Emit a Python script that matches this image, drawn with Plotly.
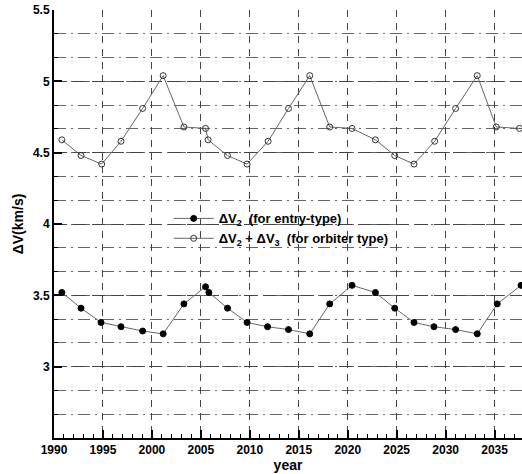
import plotly.graph_objects as go

entry_years = [1990.8, 1992.76, 1994.8, 1996.84, 1999.05, 2001.15, 2003.27, 2005.48, 2005.82,
               2007.72, 2009.72, 2011.81, 2013.95, 2016.12, 2018.16, 2020.44, 2022.83, 2024.8,
               2026.77, 2028.81, 2031.02, 2033.23, 2035.27, 2037.7]
entry_dv = [3.52, 3.41, 3.31, 3.28, 3.25, 3.23, 3.44, 3.56, 3.52,
            3.41, 3.31, 3.28, 3.26, 3.23, 3.44, 3.57, 3.52, 3.41,
            3.31, 3.28, 3.26, 3.23, 3.44, 3.57]

orbiter_years = [1990.8, 1992.76, 1994.87, 1996.84, 1999.05, 2001.15, 2003.27, 2005.48, 2005.74,
                 2007.72, 2009.72, 2011.87, 2013.95, 2016.12, 2018.16, 2020.44, 2022.83, 2024.8,
                 2026.77, 2028.88, 2031.02, 2033.23, 2035.17, 2037.55]
orbiter_dv = [4.59, 4.48, 4.42, 4.58, 4.81, 5.04, 4.68, 4.67, 4.59,
              4.48, 4.42, 4.58, 4.81, 5.04, 4.68, 4.67, 4.59, 4.48,
              4.42, 4.58, 4.81, 5.04, 4.68, 4.67]

x_ticks = [1990, 1995, 2000, 2005, 2010, 2015, 2020, 2025, 2030, 2035]
y_ticks = [3, 3.5, 4, 4.5, 5, 5.5]

name_entry = "ΔV<sub>2</sub>\u00a0\u00a0(for entry-type)"
name_orbiter = "ΔV<sub>2</sub> + ΔV<sub>3</sub>\u00a0\u00a0(for orbiter type)"

FONT = "Liberation Sans"

fig = go.Figure()
fig.add_trace(go.Scatter(
    x=entry_years, y=entry_dv, mode="lines+markers", name=name_entry,
    line=dict(color="#666666", width=1),
    marker=dict(symbol="circle", size=6, color="black", line=dict(color="black", width=1)),
))
fig.add_trace(go.Scatter(
    x=orbiter_years, y=orbiter_dv, mode="lines+markers", name=name_orbiter,
    line=dict(color="#666666", width=1),
    marker=dict(symbol="circle-open", size=6, color="#333333", line=dict(width=1)),
))

grid_col = "#444444"
fig.update_layout(
    width=522, height=474,
    margin=dict(l=54, r=0, t=10, b=36),
    paper_bgcolor="white", plot_bgcolor="white",
    font=dict(family=FONT, color="black", size=12),
    showlegend=True,
    legend=dict(
        x=0.245, y=0.548, xanchor="left", yanchor="top",
        bgcolor="rgba(0,0,0,0)", borderwidth=0,
        font=dict(family=FONT, size=13, color="black", weight="bold"),
        tracegroupgap=0, itemwidth=40,
    ),
    xaxis=dict(
        range=[1990, 2037.8], tickvals=x_ticks,
        showline=True, linecolor="black", linewidth=2, mirror=False,
        ticks="inside", ticklen=8, tickwidth=2, tickcolor="black",
        tickfont=dict(family=FONT, size=12, color="black", weight="bold"),
        showgrid=True, gridcolor=grid_col, gridwidth=1, griddash="7px,6px",
        minor=dict(dtick=1, tick0=1990, ticks="inside", ticklen=4, tickwidth=1,
                   tickcolor="black", showgrid=False),
        zeroline=False,
        title=dict(text="year", font=dict(family=FONT, size=14, color="black", weight="bold"),
                   standoff=0),
    ),
    yaxis=dict(
        range=[2.5, 5.5], tickvals=y_ticks, ticktext=["3", "3.5", "4", "4.5", "5", "5.5"],
        showline=True, linecolor="black", linewidth=2, mirror=False,
        ticks="inside", ticklen=8, tickwidth=2, tickcolor="black",
        tickfont=dict(family=FONT, size=12, color="black", weight="bold"),
        showgrid=True, gridcolor=grid_col, gridwidth=1, griddash="13px,6px",
        minor=dict(dtick=1/6, tick0=2.5, ticks="inside", ticklen=4, tickwidth=1,
                   tickcolor="black", showgrid=True, gridcolor="#666666", gridwidth=1,
                   griddash="12px,5px,2px,5px"),
        zeroline=False,
        title=dict(text="ΔV(km/s)", font=dict(family=FONT, size=14, color="black", weight="bold"),
                   standoff=6),
    ),
)

fig.write_html("out.html", config={"displayModeBar": False},
               post_script="document.body.style.margin='0';")
